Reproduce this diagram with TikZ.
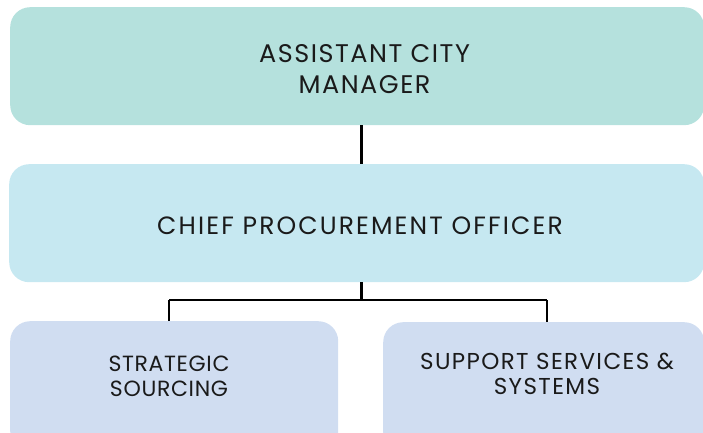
\documentclass[tikz,border=0pt]{standalone}
\usepackage{fontspec}
\setmainfont{Poppins}[LetterSpace=6]
\newfontfamily\widetrack{Poppins}[LetterSpace=8.5]
\newfontfamily\narrowtrack{Poppins}[LetterSpace=3]
\definecolor{tealbox}{HTML}{B5E1DD}
\definecolor{skybox}{HTML}{C6E8F1}
\definecolor{bluebox}{HTML}{D0DDF1}
\definecolor{ink}{HTML}{1A1A1A}
\begin{document}
\begin{tikzpicture}[x=1pt,y=-1pt,
  orgbox/.style={draw=none,rounded corners=20pt,inner sep=0pt,anchor=north west},
  orgtext/.style={text=ink,align=center,inner sep=0pt},
  link/.style={draw=black,line width=2pt},
  stemline/.style={draw=black,line width=3pt}]
  \useasboundingbox (0,0) rectangle (703,433);
  \clip (0,0) rectangle (703,433);

  % boxes
  \node[orgbox,fill=tealbox,minimum width=694pt,minimum height=118pt] (acm) at (10,7) {};
  \node[orgbox,fill=skybox,minimum width=695pt,minimum height=118pt] (cpo) at (9,164) {};
  \node[orgbox,fill=bluebox,minimum width=328pt,minimum height=130pt] (ss) at (10,321) {};
  \node[orgbox,fill=bluebox,minimum width=321pt,minimum height=130pt] (sup) at (383,322) {};

  % labels
  \node[orgtext,font=\fontsize{25.5}{31}\selectfont] (acmtxt) at (364.5,69.5) {ASSISTANT CITY\\MANAGER};
  \node[orgtext,font=\widetrack\fontsize{25}{28}\selectfont] (cpotxt) at (360,225.5) {CHIEF PROCUREMENT OFFICER};
  \node[orgtext,font=\narrowtrack\fontsize{22}{25}\selectfont] (sstxt) at (169,376) {STRATEGIC\\SOURCING};
  \node[orgtext,font=\fontsize{23}{25}\selectfont] (suptxt) at (547,374) {SUPPORT SERVICES \&\\SYSTEMS};

  % connectors
  \coordinate (stem) at (361,0);
  \draw[stemline] (stem |- acm.south) -- (stem |- cpo.north);
  \draw[stemline] (stem |- cpo.south) -- ++(0,18) coordinate (bus);
  \draw[link] (sstxt |- bus) -- (suptxt |- bus);
  \draw[link] (sstxt |- bus) -- (sstxt |- ss.north);
  \draw[link] (suptxt |- bus) -- (suptxt |- sup.north);
\end{tikzpicture}
\end{document}
